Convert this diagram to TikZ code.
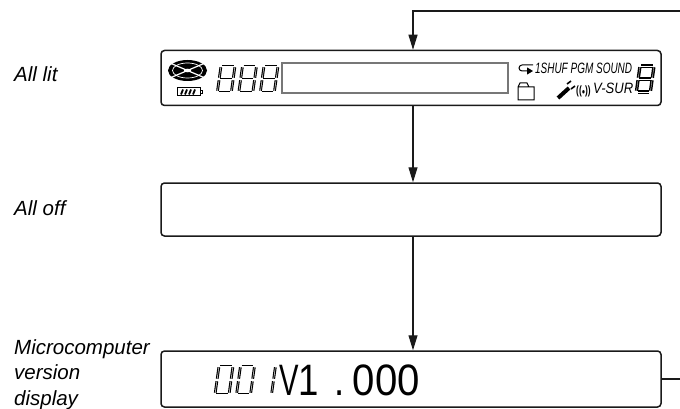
\documentclass[tikz,border=0pt]{standalone}
\usepackage{fontspec}
\setmainfont{Liberation Sans}
\usetikzlibrary{arrows.meta,positioning,calc}
\definecolor{inkline}{HTML}{1a1a1a}
\definecolor{lcdframe}{HTML}{777777}
\tikzset{
  panelbox/.style={draw=inkline, line width=1.5pt, rounded corners=3.5pt, minimum width=500pt, inner sep=0pt, fill=white},
  flowline/.style={draw=inkline, line width=1.1pt},
  flowarrow/.style={flowline, -{Triangle[length=15pt,width=9pt]}},
  sidelabel/.style={font=\itshape\fontsize{20.5}{25.8}\selectfont, align=left, anchor=west, inner sep=0pt},
  lcdtext/.style={font=\itshape\fontsize{15}{15}\selectfont, inner sep=0pt, text=black},
  lcdseg/.style={draw=black, line width=1.15pt, double=white, double distance=.45pt, shorten <=1.2pt, shorten >=1.2pt},
  lcdsolid/.style={lcdseg, line width=1.5pt, double distance=.3pt},
}
\def\segeight{0/0/1/0,0/.5/1/.5,0/1/1/1,0/0/0/.5,1/0/1/.5,0/.5/0/1,1/.5/1/1}
\def\segzero{0/0/1/0,0/1/1/1,0/0/0/.5,1/0/1/.5,0/.5/0/1,1/.5/1/1}
\def\segone{1/0/1/.5,1/.5/1/1}
\newcommand{\lcddigit}[6][lcdseg]{%
  \begin{scope}[shift={(#2,#3)},xslant=.14,xscale=#4,yscale=#5]
    \foreach \xa/\ya/\xb/\yb in #6 {\draw[#1] (\xa,\ya) -- (\xb,\yb);}
  \end{scope}}
\begin{document}
\begin{tikzpicture}[x=1pt,y=-1pt]
  \useasboundingbox (0,0) rectangle (680,409);
  % boxes
  \node[panelbox, minimum height=55pt] (lit) at (411,78) {};
  \node[panelbox, minimum height=53pt] (off) at (411,209.5) {};
  \node[panelbox, minimum height=56pt] (version) at (411,379) {};
  \coordinate (topin) at (680,11);
  \coordinate (turn) at (413,11);
  \coordinate (out) at (680,379);
  % connectors
  \draw[flowarrow] (topin) -- (turn) -- (lit.north -| turn);
  \draw[flowarrow] (lit.south -| turn) -- (off.north -| turn);
  \draw[flowarrow] (off.south -| turn) -- (version.north -| turn);
  \draw[flowline] (version.east) -- (out);
  % side labels
  \node[sidelabel] (litlabel) at (14,74.5) {All lit};
  \node[sidelabel] (offlabel) at (14,208) {All off};
  \node[sidelabel] (versionlabel) at (14,374.5) {Microcomputer\\version\\display};
  % disc and battery
  \fill[black] (187.5,70.5) ellipse (19.5pt and 10.5pt);
  \draw[white, line width=.7pt] (187.5,70.5) ellipse (15pt and 7.5pt);
  \draw[white, line width=1.2pt] (170,63) -- (205,78) (170,78) -- (205,63);
  \fill[white] (187.5,70.5) ellipse (3.5pt and 1.8pt);
  \draw[black, line width=1pt] (177,88) rectangle (200,96) (200,90.5) -- (202,90.5) -- (202,93.5) -- (200,93.5);
  \foreach \barx in {181,185,189,193} {\draw[black, line width=1.8pt] (\barx,94.5) -- (\barx+2,89.5);}
  % three digits
  \foreach \digx in {221,242.5,264} {\lcddigit{\digx}{66}{14}{26}{\segeight}}
  \node[draw=lcdframe, line width=1.3pt, minimum width=226pt, minimum height=30pt, inner sep=0pt] (lcdwindow) at (395,78) {};
  % right hand icons
  \draw[black, line width=1pt, -{Triangle[length=6pt,width=7pt]}] (533,65) -- (522,65) arc (90:270:3pt) -- (533,71);
  \node[lcdtext, anchor=west, xscale=.665] (modes) at (535,68) {1SHUF PGM SOUND};
  \draw[black, line width=1pt] (518,100) -- (518,87) -- (520,83) -- (527,83) -- (529,87) -- (534,87) -- (534,100) -- cycle (518,87) -- (529,87);
  \draw[black, line width=4pt] (558,98) -- (569,88);
  \draw[black, line width=1.6pt] (567,84) -- (571,81) (571,89) -- (575,86);
  \node[lcdtext, anchor=center, font=\bfseries\fontsize{12}{12}\selectfont, xscale=.7] (surround) at (583.5,91) {(({\fontsize{8}{8}\selectfont●}))};
  \node[lcdtext, anchor=west, xscale=.87] (vsur) at (593,88.5) {V-SUR};
  \lcddigit[lcdsolid]{640}{66}{14}{26}{\segeight}
  % version display
  \foreach \digx in {219,240.5} {\lcddigit{\digx}{366}{14}{28}{\segzero}}
  \lcddigit{261.5}{366}{14}{28}{\segone}
  \node[inner sep=0pt, anchor=west, font=\fontsize{44}{44}\selectfont, xscale=.83] (versionno) at (279,380) {\scalebox{.8}[1]{V}1\kern6pt\ .\kern-2pt\ \scalebox{1.1}[1]{000}};
\end{tikzpicture}
\end{document}
